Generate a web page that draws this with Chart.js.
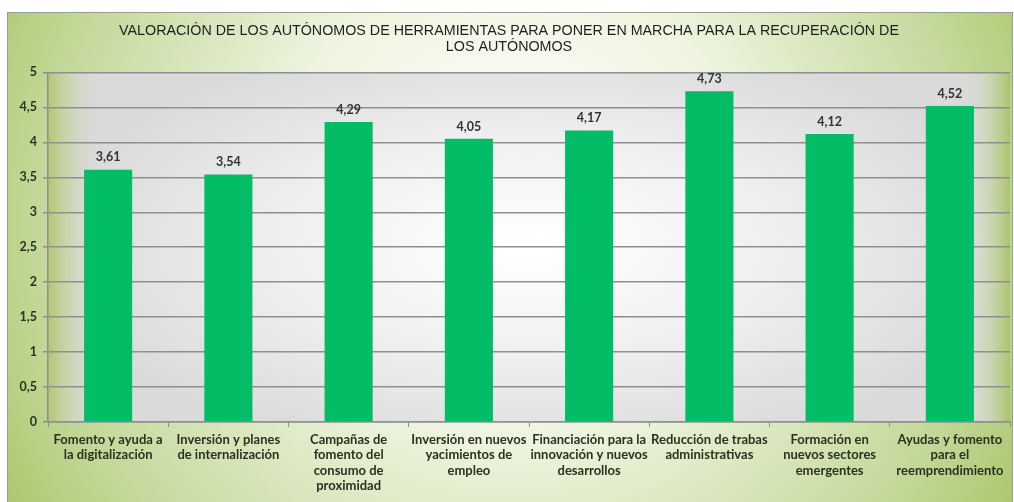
<!DOCTYPE html>
<html>
<head>
<meta charset="utf-8">
<script src="https://cdn.jsdelivr.net/npm/chart.js@4.4.1/dist/chart.umd.min.js"></script>
<style>
  html, body { margin: 0; padding: 0; background: #fff; width: 1014px; height: 502px; overflow: hidden; }
  #frame {
    position: absolute; left: 7px; top: 12px;
    width: 1004px; height: 490px;
    border: 1px solid #9a9a9a; border-bottom: none;
  }
  canvas { display: block; }
</style>
</head>
<body>
<div id="frame"><canvas id="c" width="1004" height="490"></canvas></div>
<script>
// ================= Datos =================
const titleLines = [
  'VALORACIÓN DE LOS AUTÓNOMOS DE HERRAMIENTAS PARA PONER EN MARCHA PARA LA RECUPERACIÓN DE',
  'LOS AUTÓNOMOS'
];
const categories = [
  ['Fomento y ayuda a', 'la digitalización'],
  ['Inversión y planes', 'de internalización'],
  ['Campañas de', 'fomento del', 'consumo de', 'proximidad'],
  ['Inversión en nuevos', 'yacimientos de', 'empleo'],
  ['Financiación para la', 'innovación y nuevos', 'desarrollos'],
  ['Reducción de trabas', 'administrativas'],
  ['Formación en', 'nuevos sectores', 'emergentes'],
  ['Ayudas y fomento', 'para el', 'reemprendimiento']
];
const valores = [3.61, 3.54, 4.29, 4.05, 4.17, 4.73, 4.12, 4.52];
const yMin = 0, yMax = 5, yStep = 0.5;

const fmt = v => String(v).replace('.', ',');

// ================= Fondo =================
const fondo = {
  id: 'fondo',
  beforeDraw(chart) {
    const { ctx, width, height, chartArea: a } = chart;
    ctx.save();
    // fondo verde exterior
    let g = ctx.createRadialGradient(width * 0.5, height * 0.35, 30, width * 0.5, height * 0.45, width * 0.62);
    g.addColorStop(0, '#ffffff');
    g.addColorStop(0.35, '#eef4df');
    g.addColorStop(0.75, '#c2d898');
    g.addColorStop(1, '#a1c058');
    ctx.fillStyle = g;
    ctx.fillRect(0, 0, width, height);

    // área de trazado gris/blanca
    const cx = (a.left + a.right) / 2, cy = (a.top + a.bottom) / 2;
    ctx.save();
    ctx.translate(cx, cy);
    ctx.scale(1, 0.45);
    g = ctx.createRadialGradient(0, 0, 20, 0, 0, (a.right - a.left) / 2);
    g.addColorStop(0, '#ffffff');
    g.addColorStop(0.5, '#efefef');
    g.addColorStop(1, '#dadada');
    ctx.fillStyle = g;
    ctx.fillRect(a.left - cx, (a.top - cy) / 0.45, a.right - a.left, (a.bottom - a.top) / 0.45);
    ctx.restore();

    // bordes verdes difuminados a izquierda y derecha
    let lg = ctx.createLinearGradient(a.left, 0, a.left + 55, 0);
    lg.addColorStop(0, 'rgba(170,196,100,0.85)');
    lg.addColorStop(0.5, 'rgba(190,210,140,0.35)');
    lg.addColorStop(1, 'rgba(220,220,220,0)');
    ctx.fillStyle = lg;
    ctx.fillRect(a.left, a.top, 55, a.bottom - a.top);
    lg = ctx.createLinearGradient(a.right, 0, a.right - 50, 0);
    lg.addColorStop(0, 'rgba(165,194,95,0.9)');
    lg.addColorStop(0.5, 'rgba(190,210,140,0.35)');
    lg.addColorStop(1, 'rgba(220,220,220,0)');
    ctx.fillStyle = lg;
    ctx.fillRect(a.right - 50, a.top, 50, a.bottom - a.top);
    ctx.restore();
  }
};

// ================= Etiquetas de valores =================
const etiquetas = {
  id: 'etiquetas',
  afterDatasetsDraw(chart) {
    const { ctx } = chart;
    const meta = chart.getDatasetMeta(0);
    ctx.save();
    ctx.font = 'bold 12.5px Lato';
    ctx.fillStyle = '#333333';
    ctx.textAlign = 'center';
    ctx.textBaseline = 'bottom';
    meta.data.forEach((bar, i) => {
      ctx.fillText(fmt(valores[i]), bar.x, bar.y - 6);
    });
    ctx.restore();
  }
};

new Chart(document.getElementById('c'), {
  type: 'bar',
  data: {
    labels: categories,
    datasets: [{
      data: valores,
      backgroundColor: '#02bd66',
      borderWidth: 0,
      categoryPercentage: 1,
      barPercentage: 0.4
    }]
  },
  options: {
    responsive: false,
    animation: false,
    layout: { padding: { left: 0, right: 2, top: 0, bottom: 0 } },
    plugins: {
      legend: { display: false },
      tooltip: { enabled: false },
      title: {
        display: true,
        text: titleLines,
        color: '#1f1f1f',
        font: { family: 'Liberation Sans', size: 14.3, weight: 'normal', lineHeight: 1.1 },
        padding: { top: 10, bottom: 18 }
      }
    },
    scales: {
      x: {
        afterFit(s) { s.height = 81; },
        grid: { drawOnChartArea: false, drawTicks: true, tickLength: 5, color: '#8f8f8f', lineWidth: 1 },
        border: { display: true, color: '#8f8f8f', width: 1.5 },
        ticks: {
          color: '#2a3220',
          font: { family: 'Lato', size: 13, weight: 'bold', lineHeight: 1.18 },
          padding: 5,
          maxRotation: 0,
          autoSkip: false
        }
      },
      y: {
        min: yMin, max: yMax,
        afterFit(s) { s.width = 40; },
        grid: { color: '#8f8f8f', lineWidth: 1.5, tickLength: 5 },
        border: { display: true, color: '#8f8f8f', width: 1.5 },
        ticks: {
          stepSize: yStep,
          color: '#2a3220',
          padding: 6,
          font: { family: 'Lato', size: 12.5, weight: 'bold' },
          callback: v => fmt(v)
        }
      }
    }
  },
  plugins: [fondo, etiquetas]
});
</script>
</body>
</html>
